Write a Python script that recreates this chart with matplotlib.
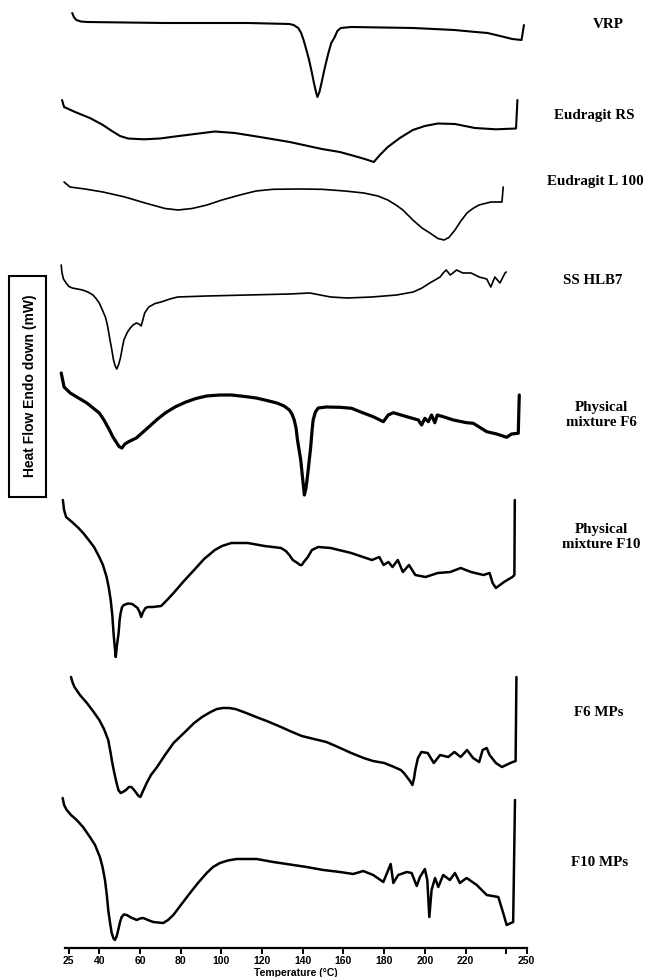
import matplotlib
matplotlib.use("Agg")
import matplotlib.pyplot as plt
from matplotlib.patches import Rectangle

# DSC thermograms, heat flow in arbitrary units (endo down)
t_vrp = [26.7, 27.5, 28.7, 31.0, 33.9, 72.4, 113.0, 133.4, 135.5, 137.8, 139.2, 140.4,
         141.8, 143.1, 144.3, 145.5, 146.5, 147.2, 148.2, 149.2, 150.8, 152.6, 154.0,
         155.7, 157.0, 158.7, 163.8, 194.3, 214.5, 225.0, 230.8, 237.0, 243.0, 247.5, 248.7]
hf_vrp = [10, 6, 3, 1.5, 1, 0, 0, -1, -2, -5, -10, -17,
          -27, -37, -48, -60, -69, -74, -69, -60, -45, -30, -20,
          -14, -8, -5, -4, -5, -7, -9, -10, -13, -16, -17, -2]

t_rs = [21.7, 22.7, 28.1, 35.4, 41.8, 46.2, 50.2, 54.1, 62.0, 69.8, 77.2, 87.0, 96.8,
        106.6, 118.9, 133.6, 149.4, 158.2, 163.6, 170.5, 174.9, 177.9, 181.8, 187.7,
        194.1, 200.0, 206.4, 214.8, 224.6, 234.9, 244.8, 245.5]
hf_rs = [30, 23, 18, 12, 5, -1, -6, -8.5, -9.3, -8.5, -6.5, -4, -1.5,
         -3, -7, -12, -19, -22, -25, -29, -32, -25, -17, -8,
         0, 4, 6.5, 6, 2, 0.7, 1.5, 30]

t_l100 = [22.7, 25.6, 33.0, 41.8, 52.6, 62.5, 72.3, 78.7, 85.6, 92.9, 100.3, 109.1,
          117.0, 125.3, 138.6, 149.4, 160.7, 170.0, 176.9, 181.8, 185.8, 189.2, 194.1,
          198.6, 202.5, 206.4, 209.4, 211.8, 214.8, 217.7, 220.7, 223.6, 226.6, 232.5,
          237.9, 238.5]
hf_l100 = [8, 3, 1, -2, -7, -13, -18.5, -20, -18.5, -15, -10, -5,
           -1, 0.7, 1, 0.7, -1, -3, -6, -10, -15, -20, -30,
           -38, -43, -48.5, -50, -47.5, -40, -31, -23, -18.5, -15, -12,
           -12, 3]

t_ss = [21.3, 21.5, 21.7, 22.4, 23.7, 25.1, 26.7, 31.8, 34.4, 36.9, 38.4, 40.0, 41.3,
        43.0, 44.0, 45.0, 46.0, 47.0, 47.9, 48.6, 49.6, 50.5, 51.3, 52.1, 53.6, 55.2,
        56.6, 58.2, 59.5, 60.6, 61.4, 62.3, 64.3, 67.4, 70.4, 74.7, 78.5, 92.7, 113.0,
        133.4, 143.5, 153.7, 161.8, 174.0, 186.1, 194.3, 198.6, 202.4, 205.0, 207.5,
        209.0, 210.5, 212.5, 215.6, 218.6, 222.7, 226.7, 230.4, 232.4, 234.4, 236.9,
        239.4, 240.0]
hf_ss = [30, 25, 22, 16, 12, 8.5, 7, 5, 3, 0, -3.5, -8, -14,
         -22, -30, -42, -53, -65, -71.5, -74, -69, -62, -53, -45, -38, -33,
         -30, -28, -29, -31, -25, -18, -12, -8.5, -7, -4, -2, -1, 0,
         1, 2, -2, -3, -2, 0, 3, 7, 12, 15, 18,
         22, 25, 20, 25, 22, 22, 18, 16, 8, 18, 12,
         22, 23]

t_pm6 = [21.3, 22.7, 25.7, 33.9, 40.0, 42.3, 45.0, 46.7, 48.6, 49.7, 51.1, 52.6, 54.2,
         56.1, 58.2, 61.0, 64.3, 68.4, 72.4, 77.2, 82.6, 87.5, 92.7, 99.3, 104.9, 111.6,
         117.1, 122.4, 127.3, 130.8, 133.4, 134.7, 135.8, 136.7, 137.4, 138.2, 139.0,
         139.9, 140.8, 141.6, 142.5, 143.2, 143.9, 144.5, 145.1, 146.2, 147.6, 151.6,
         158.3, 164.0, 168.1, 174.6, 179.6, 182.0, 184.5, 191.1, 196.8, 198.4, 200.0,
         201.7, 203.3, 204.9, 206.1, 209.0, 214.0, 220.5, 223.8, 230.4, 235.3, 240.2,
         242.6, 245.9, 246.4]
hf_pm6 = [27, 13, 7, -3, -13, -20, -30, -37, -43, -46.5, -48, -44, -42,
          -40, -38, -33, -27, -19.5, -13, -7, -2, 1.5, 4, 5, 5, 3.5,
          2, -0.5, -3, -6, -10, -14, -20, -28, -40, -50, -60,
          -78, -95, -88, -73, -60, -47, -32, -20, -12, -8, -7,
          -7.3, -8.3, -11.7, -16.7, -21.7, -15, -12.7, -16.7, -20, -25, -18.3,
          -21.7, -15, -22.7, -15, -16.7, -20, -22.7, -23.3, -31.7, -34, -37.3,
          -34, -33.3, 5]

t_pm10 = [22.1, 22.7, 23.7, 26.6, 29.8, 32.5, 34.8, 37.4, 40.0, 41.8, 43.6, 44.7, 45.6,
          46.4, 47.0, 47.5, 48.1, 48.7, 49.5, 50.0, 50.5, 51.2, 52.1, 54.1, 56.2, 57.5,
          58.8, 59.8, 60.6, 61.5, 62.7, 63.9, 66.3, 70.4, 73.3, 76.5, 81.6, 86.6, 91.5,
          96.8, 100.3, 104.9, 113.0, 121.2, 129.3, 131.7, 133.4, 135.1, 137.4, 138.6,
          139.5, 140.5, 142.5, 144.5, 147.6, 153.7, 163.8, 174.0, 177.6, 179.7, 182.1,
          184.1, 186.7, 189.2, 192.2, 195.3, 200.3, 206.4, 212.5, 217.6, 222.7, 228.8,
          231.8, 233.3, 234.9, 238.9, 243.0, 244.0, 244.2]
hf_pm10 = [45, 35, 28, 23, 17, 11, 5, -2, -12, -20, -32, -43, -55,
           -70, -88, -100, -112, -100, -88, -75, -68, -62, -60, -58.5, -59, -61,
           -63, -67, -72, -67, -63, -62, -62, -61, -55, -48, -36, -25, -14,
           -5, -1, 2, 2, -1, -3, -6, -10, -15, -18, -20,
           -20, -17, -12, -5, -2, -3, -8, -15, -12, -20, -17,
           -22, -15, -27, -20, -30, -32, -28, -27, -23, -27, -30,
           -28, -38, -43, -37, -32, -30, 45]

t_f6 = [26.1, 26.8, 27.8, 30.5, 33.9, 36.9, 40.0, 42.3, 44.4, 45.5, 46.4, 47.5, 48.5,
        49.4, 50.5, 51.6, 53.1, 54.6, 55.8, 57.1, 58.2, 59.3, 60.2, 61.5, 63.3, 65.4,
        68.4, 72.3, 76.5, 81.6, 86.6, 90.5, 94.7, 97.8, 100.8, 103.7, 106.9, 111.6,
        117.1, 122.9, 129.3, 134.2, 139.5, 145.5, 151.6, 157.3, 163.8, 169.9, 174.5,
        180.0, 184.3, 188.2, 189.7, 191.2, 192.7, 193.9, 194.7, 195.3, 196.6, 198.3,
        201.4, 204.4, 207.5, 211.5, 214.5, 217.6, 220.7, 223.7, 226.7, 228.4, 230.4,
        231.8, 234.9, 237.9, 242.0, 244.6, 245.0]
hf_f6 = [33, 28, 23, 15, 7, -1, -10, -19, -30, -42, -53, -64, -73,
         -80, -83, -82, -80, -77, -77, -80, -83, -86, -87, -81, -73, -65,
         -57, -45, -33, -23, -13, -7, -2, 1, 2, 2, 1, -2.5,
         -7, -11.5, -17, -21.5, -26, -29, -32, -37, -43, -48, -51,
         -53, -56.5, -60, -63, -67, -71, -75, -68, -60, -48, -42,
         -43, -53, -45, -47, -42, -47, -40, -48, -52, -40, -38,
         -45, -53, -57, -53, -51, 33]

t_f10 = [22.0, 22.7, 24.0, 26.1, 28.9, 32.0, 35.4, 37.9, 40.3, 41.6, 42.8, 43.7, 44.4,
         45.3, 46.1, 47.0, 47.7, 48.6, 49.3, 50.2, 51.0, 52.1, 53.5, 55.6, 58.4, 60.0,
         61.6, 63.9, 66.5, 68.8, 71.4, 73.8, 76.4, 80.1, 84.6, 88.5, 92.8, 95.9, 99.3,
         103.2, 107.5, 117.3, 125.5, 132.1, 141.9, 150.1, 158.3, 164.8, 169.7, 174.6,
         179.6, 182.0, 183.2, 184.5, 186.9, 191.1, 193.5, 196.0, 197.6, 200.0, 201.2,
         202.2, 203.3, 205.0, 206.6, 209.0, 212.3, 214.8, 217.2, 220.5, 225.5, 230.4,
         236.1, 238.5, 240.2, 243.4, 244.3]
hf_f10 = [62, 55, 50, 45, 40, 33, 23, 15, 3, -7, -20, -35, -50,
          -63, -73, -78.5, -80, -76, -70, -62, -57, -54.5, -55, -57.5, -60, -58.5,
          -58, -60, -62, -62.5, -63, -60, -55, -45, -33, -23, -13, -7, -3,
          -0.5, 1, 1, -2, -4, -7, -10, -12, -14, -11, -15,
          -22, -10, -4, -23, -15, -12, -13, -26, -17, -9, -20,
          -57, -30, -18, -27, -15, -20, -13, -23, -18, -25, -35,
          -37, -53, -65, -62, 60]

names = ["VRP", "Eudragit RS", "Eudragit L 100", "SS HLB7",
         "Physical\nmixture F6", "Physical\nmixture F10", "F6 MPs", "F10 MPs"]
temps = [t_vrp, t_rs, t_l100, t_ss, t_pm6, t_pm10, t_f6, t_f10]
flows = [hf_vrp, hf_rs, hf_l100, hf_ss, hf_pm6, hf_pm10, hf_f6, hf_f10]

tick_vals = [25, 40, 60, 80, 100, 120, 140, 160, 180, 200, 220, 240, 250]
tick_text = ["25", "40", "60", "80", "100", "120", "140", "160", "180", "200", "220", "", "250"]

# layout: vertical stacking offsets, label positions, line widths
offsets = [-23, -130, -190, -295, -400, -545, -710, -860]
label_xy = [(608, 25), (594, 115), (595, 182), (593, 280),
            (601, 415), (601, 537), (599, 713), (600, 863)]
widths = [1.5, 1.5, 1.2, 1.2, 2.3, 1.8, 1.8, 1.8]

W, H = 649, 977
fig = plt.figure(figsize=(W / 100, H / 100), dpi=100)
ax = fig.add_axes([65.3 / W, 29 / H, 461.3 / W, 948 / H])

for t, hf, off, lw in zip(temps, flows, offsets, widths):
    ax.plot(t, [v + off for v in hf], color="black", lw=lw, clip_on=False,
            solid_joinstyle="round", solid_capstyle="round")

ax.set_xlim(23.3, 250)
ax.set_ylim(-948, 0)
for s in ["left", "right", "top"]:
    ax.spines[s].set_visible(False)
ax.spines["bottom"].set_linewidth(1.6)
ax.set_yticks([])
ax.set_xticks(tick_vals)
ax.set_xticklabels(tick_text, fontsize=7.5, fontweight="bold", family="Liberation Sans")
ax.tick_params(axis="x", direction="out", length=4, width=1.4, pad=2)
ax.set_xlabel("Temperature (°C)", fontsize=7.5, fontweight="bold",
              family="Liberation Sans", labelpad=1)

for name, (lx, ly) in zip(names, label_xy):
    fig.text(lx / W, 1 - ly / H, name, ha="center", va="center", fontsize=10.8,
             fontweight="bold", family="Liberation Serif", linespacing=1.3)

# boxed y label
fig.patches.append(Rectangle((9 / W, 1 - 497 / H), 37 / W, 221 / H, transform=fig.transFigure,
                             fill=False, lw=1.5, edgecolor="black"))
fig.text(30 / W, 1 - 386 / H, "Heat Flow Endo down (mW)", rotation=90, ha="center",
         va="center", fontsize=10, fontweight="bold", family="Liberation Sans")

fig.savefig("out.png", dpi=100)
